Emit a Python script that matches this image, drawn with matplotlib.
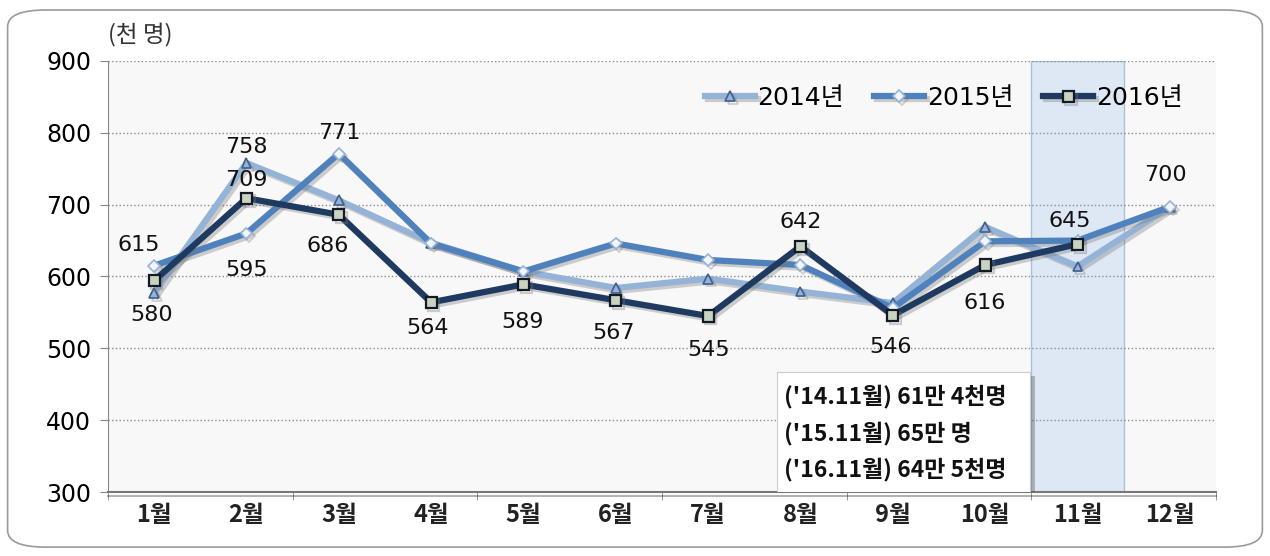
import matplotlib.pyplot as plt
import matplotlib.patheffects as pe
from matplotlib.patches import FancyBboxPatch, Rectangle

plt.rcParams['font.family'] = ['DejaVu Sans', 'Noto Sans CJK KR']

months = ['1월', '2월', '3월', '4월', '5월', '6월', '7월', '8월', '9월', '10월', '11월', '12월']
y2014 = [577, 758, 706, 647, 607, 584, 597, 579, 563, 669, 614, 697]
y2015 = [615, 660, 771, 646, 607, 646, 623, 616, 556, 649, 650, 697]
y2016 = [594, 709, 686, 564, 589, 567, 545, 642, 546, 616, 645]

# data labels as printed on the chart (month index, text, label height)
label_month = [0, 0, 1, 1, 1, 2, 2, 3, 4, 5, 6, 7, 8, 9, 10, 11]
label_text = ['615', '580', '758', '709', '595', '771', '686', '564', '589',
              '567', '545', '642', '546', '616', '645', '700']
label_y = [644, 546, 780, 734, 609, 800, 642, 528, 536, 522, 497, 676, 502, 563, 677, 741]
label_dx = [-0.17, -0.03, 0, 0, 0, 0.01, -0.12, -0.04, -0.01, -0.02, 0, 0, -0.02, -0.01, -0.08, -0.05]

note_lines = ["('14.11월) 61만 4천명", "('15.11월) 65만 명", "('16.11월) 64만 5천명"]

fig = plt.figure(figsize=(12.7, 5.56), dpi=100)
frame = FancyBboxPatch((0.006, 0.016), 0.988, 0.966,
                       boxstyle='round,pad=0,rounding_size=0.03',
                       transform=fig.transFigure, facecolor='white',
                       edgecolor='#9a9a9a', linewidth=1.2, zorder=-10)
fig.patches.append(frame)
ax = fig.add_axes([0.085, 0.1151, 0.8725, 0.7752])
ax.set_facecolor('#f8f8f8')

x = list(range(len(months)))
ax.axvspan(9.5, 10.5, facecolor='#dde8f4', edgecolor='#a9c0dc', linewidth=1.0, zorder=0.5)

shadow = [pe.SimpleLineShadow(offset=(2, -2), shadow_color='#777777', alpha=0.35), pe.Normal()]
ax.plot(x, y2014, color='#95b3d7', lw=4.5, marker='^', ms=7, mfc='#95b3d7',
        mec='#3f5f8f', mew=1.2, label='2014년', zorder=3, path_effects=shadow)
ax.plot(x, y2015, color='#4f81bd', lw=4.5, marker='D', ms=6, mfc='#f2f6fb',
        mec='#95b3d7', mew=1.2, label='2015년', zorder=4, path_effects=shadow)
ax.plot(x[:len(y2016)], y2016, color='#1f3a60', lw=4.5, marker='s', ms=8, mfc='#c9d3c0',
        mec='#111a26', mew=1.6, label='2016년', zorder=5, path_effects=shadow)

for m, t, yy, dx in zip(label_month, label_text, label_y, label_dx):
    ax.text(m + dx, yy, t, ha='center', va='center', fontsize=16, color='#111111', zorder=6)

ax.set_xlim(-0.5, 11.5)
ax.set_ylim(300, 900)
ax.set_yticks(range(300, 901, 100))
ax.set_xticks(x)
ax.set_xticklabels(months, fontsize=17, fontweight='bold', color='#222222',
                   family=['Noto Sans CJK KR', 'DejaVu Sans'])
ax.set_xticks([-0.5, 1.5, 3.5, 5.5, 7.5, 9.5, 11.5], minor=True)
ax.tick_params(axis='x', which='major', length=0, pad=8)
ax.tick_params(axis='x', which='minor', length=6, color='#888888')
ax.tick_params(axis='y', labelsize=17, length=6, color='#888888', pad=6)
ax.grid(axis='y', linestyle=':', color='#8c8c8c', linewidth=1.0)
ax.set_axisbelow(True)
for s in ['top', 'right']:
    ax.spines[s].set_visible(False)
ax.spines['left'].set_color('#888888')
ax.spines['bottom'].set_color('#777777')
ax.spines['bottom'].set_linewidth(1.5)
ax.spines['bottom'].set_path_effects([pe.SimpleLineShadow(offset=(0, -3), alpha=0.3), pe.Normal()])

# note box
box = Rectangle((6.75, 300), 2.74, 167, facecolor='white', edgecolor='#cccccc',
                linewidth=0.8, zorder=7,
                path_effects=[pe.withSimplePatchShadow(offset=(3, -3), alpha=0.35)])
ax.add_patch(box)
for i, line in enumerate(note_lines):
    ax.text(6.82, 433 - i * 51, line, ha='left', va='center', fontsize=16.5,
            fontweight='bold', color='#111111', zorder=8,
            family=['Noto Sans CJK KR', 'DejaVu Sans'])

ax.text(-0.5, 935, '(천 명)', ha='left', va='center', fontsize=17, color='#333333',
        family=['Noto Sans CJK KR', 'DejaVu Sans'], clip_on=False)

leg = ax.legend(loc='center right', bbox_to_anchor=(0.99, 0.914), ncol=3, frameon=False,
                fontsize=18, handlelength=2.0, handletextpad=0.1, columnspacing=1.2)

fig.savefig('out.png', dpi=100)
